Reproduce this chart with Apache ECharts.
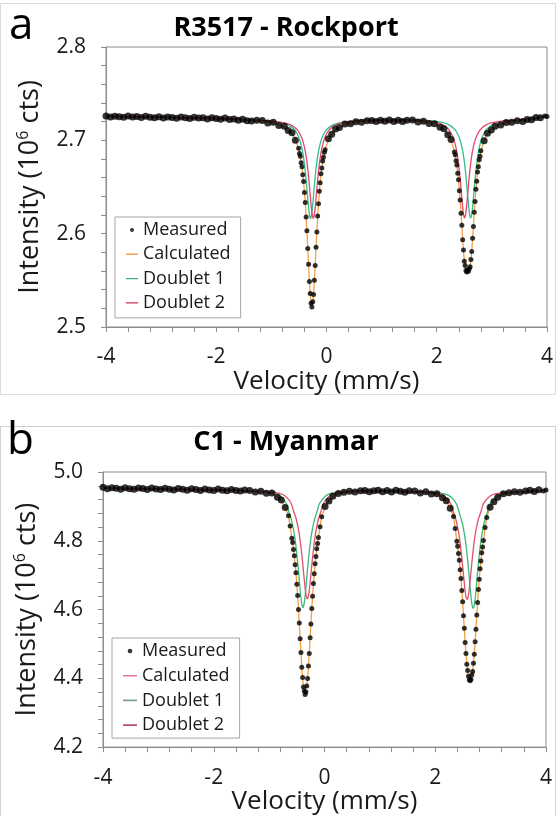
<!DOCTYPE html>
<html><head><meta charset="utf-8">
<script src="https://cdn.jsdelivr.net/npm/echarts@6/dist/echarts.min.js"></script>
<style>html,body{margin:0;padding:0;background:#fff}#c{width:556px;height:816px}</style>
</head><body><div id="c"></div>
<script>
const FONT = '"Open Sans", "Noto Sans", sans-serif';

// ---------- Panel a : R3517 - Rockport ----------
const velA = [
-4.00,-3.92,-3.84,-3.76,-3.68,-3.60,-3.52,-3.44,-3.36,-3.28,-3.20,-3.12,-3.04,-2.96,-2.88,-2.80,-2.72,-2.64,-2.56,-2.48,-2.40,-2.32,-2.24,-2.16,-2.08,-2.00,-1.92,-1.84,-1.76,-1.68,-1.60,-1.52,-1.44,-1.36,
-1.265,-1.165,-1.065,-0.965,-0.865,-0.765,-0.695,-0.625,-0.565,
-0.505,-0.49,-0.475,-0.46,-0.445,-0.43,-0.415,-0.40,-0.385,-0.37,-0.355,-0.34,-0.325,-0.31,-0.295,-0.28,
-0.265,
-0.25,-0.235,-0.22,-0.205,-0.19,-0.175,-0.16,-0.145,-0.13,-0.115,-0.10,-0.085,-0.07,-0.055,-0.04,-0.025,
0.035,0.095,0.165,0.235,0.335,0.435,0.535,0.635,0.735,
0.82,0.90,0.98,1.06,1.14,1.22,1.30,1.38,1.46,
1.56,1.66,1.76,1.86,1.96,2.06,2.13,2.20,2.26,
2.32,2.335,2.35,2.365,2.38,2.395,2.41,2.425,2.44,2.455,2.47,2.485,2.50,2.515,2.53,2.545,
2.56,
2.575,2.59,2.605,2.62,2.635,2.65,2.665,2.68,2.695,2.71,2.725,2.74,2.755,2.77,2.785,2.80,
2.86,2.92,2.99,3.06,3.16,3.26,3.36,3.46,3.56,
3.64,3.72,3.80,3.88,3.96,4.00];
const measuredA = [
2.7262,2.7250,2.7259,2.7254,2.7247,2.7260,2.7249,2.7255,2.7244,2.7258,2.7247,2.7243,2.7254,2.7239,2.7251,2.7245,2.7236,2.7250,2.7241,2.7233,2.7246,2.7238,2.7242,2.7229,2.7241,2.7233,2.7226,2.7238,2.7224,2.7229,2.7216,2.7225,2.7211,2.7207,
2.7215,2.7212,2.7185,2.7195,2.7160,2.7150,2.7105,2.7080,2.7002,
2.6915,2.6858,2.6830,2.6760,2.6718,2.6630,2.6560,2.6440,2.6335,2.6178,2.6030,2.5840,2.5672,2.5488,2.5360,2.5255,
2.5215,
2.5270,2.5348,2.5500,2.5658,2.5855,2.6018,2.6190,2.6320,2.6455,2.6545,2.6642,2.6704,2.6778,2.6818,2.6872,2.6898,
2.7018,2.7065,2.7122,2.7138,2.7175,2.7178,2.7198,2.7195,2.7210,
2.7212,2.7201,2.7215,2.7204,2.7217,2.7203,2.7216,2.7202,2.7214,
2.7218,2.7196,2.7205,2.7180,2.7178,2.7140,2.7125,2.7060,2.7010,
2.6875,2.6845,2.6780,2.6735,2.6648,2.6578,2.6460,2.6360,2.6218,2.6090,2.5935,2.5825,2.5705,2.5660,2.5605,2.5590,
2.5612,
2.5598,2.5625,2.5645,2.5722,2.5810,2.5950,2.6078,2.6230,2.6345,2.6475,2.6562,2.6660,2.6718,2.6792,2.6830,2.6888,
2.6995,2.7075,2.7110,2.7150,2.7165,2.7192,2.7195,2.7210,2.7202,
2.7224,2.7221,2.7244,2.7242,2.7262,2.7255];
const calculatedA = [
2.7258,2.7257,2.7256,2.7255,2.7254,2.7253,2.7252,2.7251,2.7250,2.7249,2.7248,2.7247,2.7246,2.7245,2.7244,2.7243,2.7242,2.7241,2.7240,2.7239,2.7238,2.7237,2.7236,2.7235,2.7234,2.7232,2.7230,2.7228,2.7226,2.7224,2.7221,2.7218,2.7215,2.7211,
2.7204,2.7200,2.7192,2.7183,2.7168,2.7143,2.7115,2.7071,2.7010,
2.6904,2.6867,2.6823,2.6771,2.6710,2.6637,2.6551,2.6448,2.6326,2.6184,2.6023,2.5847,2.5665,2.5494,2.5354,2.5262,
2.5230,
2.5262,2.5354,2.5494,2.5665,2.5847,2.6023,2.6184,2.6326,2.6448,2.6551,2.6637,2.6710,2.6771,2.6823,2.6867,2.6904,
2.7010,2.7071,2.7115,2.7143,2.7168,2.7183,2.7192,2.7200,2.7204,
2.7206,2.7208,2.7209,2.7210,2.7210,2.7210,2.7210,2.7209,2.7209,
2.7209,2.7203,2.7197,2.7187,2.7172,2.7146,2.7117,2.7069,2.7001,
2.6881,2.6838,2.6786,2.6725,2.6654,2.6570,2.6469,2.6353,2.6224,2.6084,2.5944,2.5816,2.5715,2.5651,2.5617,2.5605,
2.5603,
2.5605,2.5617,2.5651,2.5715,2.5816,2.5944,2.6084,2.6224,2.6353,2.6469,2.6570,2.6654,2.6725,2.6786,2.6838,2.6881,
2.7001,2.7069,2.7117,2.7146,2.7172,2.7187,2.7197,2.7203,2.7209,
2.7218,2.7228,2.7238,2.7248,2.7256,2.7258];
const doublet1A = [
[-4,2.7258],[-3,2.7248],[-2,2.7234],[-1.6,2.7224],
[-1.29,2.7215],[-0.99,2.7204],[-0.79,2.7184],[-0.69,2.7163],[-0.59,2.7119],[-0.54,2.7079],[-0.49,2.7013],[-0.45,2.6927],[-0.42,2.6831],[-0.39,2.6695],[-0.37,2.6579],[-0.35,2.6446],[-0.33,2.6311],[-0.31,2.6205],
[-0.29,2.6165],
[-0.27,2.6205],[-0.25,2.6311],[-0.23,2.6446],[-0.21,2.6579],[-0.19,2.6695],[-0.16,2.6831],[-0.13,2.6927],[-0.09,2.7013],[-0.04,2.7079],[0.01,2.7119],[0.11,2.7163],[0.21,2.7184],[0.41,2.7204],[0.71,2.7215],
[1.15,2.7216],
[1.615,2.7220],[1.915,2.7209],[2.115,2.7189],[2.215,2.7168],[2.315,2.7124],[2.365,2.7084],[2.415,2.7018],[2.455,2.6932],[2.485,2.6836],[2.515,2.6700],[2.535,2.6584],[2.555,2.6451],[2.575,2.6316],[2.595,2.6210],
[2.615,2.6170],
[2.635,2.6210],[2.655,2.6316],[2.675,2.6451],[2.695,2.6584],[2.715,2.6700],[2.745,2.6836],[2.775,2.6932],[2.815,2.7018],[2.865,2.7084],[2.915,2.7124],[3.015,2.7168],[3.115,2.7189],[3.315,2.7209],[3.615,2.7220],
[4,2.7256]];
const doublet2A = [
[-4,2.7258],[-3,2.7248],[-2,2.7234],[-1.6,2.7224],
[-1.24,2.7215],[-0.94,2.7204],[-0.74,2.7184],[-0.64,2.7163],[-0.54,2.7119],[-0.49,2.7079],[-0.44,2.7013],[-0.40,2.6927],[-0.37,2.6831],[-0.34,2.6695],[-0.32,2.6579],[-0.30,2.6446],[-0.28,2.6311],[-0.26,2.6205],
[-0.24,2.6165],
[-0.22,2.6205],[-0.20,2.6311],[-0.18,2.6446],[-0.16,2.6579],[-0.14,2.6695],[-0.11,2.6831],[-0.08,2.6927],[-0.04,2.7013],[0.01,2.7079],[0.06,2.7119],[0.16,2.7163],[0.26,2.7184],[0.46,2.7204],[0.76,2.7215],
[1.15,2.7216],
[1.505,2.7220],[1.805,2.7209],[2.005,2.7189],[2.105,2.7168],[2.205,2.7124],[2.255,2.7084],[2.305,2.7018],[2.345,2.6932],[2.375,2.6836],[2.405,2.6700],[2.425,2.6584],[2.445,2.6451],[2.465,2.6316],[2.485,2.6210],
[2.505,2.6170],
[2.525,2.6210],[2.545,2.6316],[2.565,2.6451],[2.585,2.6584],[2.605,2.6700],[2.635,2.6836],[2.665,2.6932],[2.705,2.7018],[2.755,2.7084],[2.805,2.7124],[2.905,2.7168],[3.005,2.7189],[3.205,2.7209],[3.505,2.7220],
[4,2.7256]];

// ---------- Panel b : C1 - Myanmar ----------
const velB = [
-4.00,-3.92,-3.84,-3.76,-3.68,-3.60,-3.52,-3.44,-3.36,-3.28,-3.20,-3.12,-3.04,-2.96,-2.88,-2.80,-2.72,-2.64,-2.56,-2.48,-2.40,-2.32,-2.24,-2.16,-2.08,-2.00,-1.92,-1.84,-1.76,-1.68,-1.60,-1.52,-1.44,
-1.35,-1.25,-1.15,-1.05,-0.95,-0.85,-0.78,-0.71,-0.65,-0.62,
-0.59,-0.575,-0.56,-0.545,-0.53,-0.515,-0.50,-0.485,-0.47,-0.455,-0.44,-0.425,-0.41,-0.395,-0.38,-0.365,
-0.35,
-0.335,-0.32,-0.305,-0.29,-0.275,-0.26,-0.245,-0.23,-0.215,-0.20,-0.185,-0.17,-0.155,-0.14,-0.125,-0.11,
-0.08,-0.05,0.01,0.08,0.15,0.25,0.35,0.45,0.55,0.65,
0.73,0.81,0.89,0.97,1.05,1.13,1.21,1.29,1.37,1.45,1.53,
1.63,1.73,1.83,1.93,2.03,2.13,2.20,2.27,2.33,2.36,
2.39,2.405,2.42,2.435,2.45,2.465,2.48,2.495,2.51,2.525,2.54,2.555,2.57,2.585,2.60,2.615,
2.63,
2.645,2.66,2.675,2.69,2.705,2.72,2.735,2.75,2.765,2.78,2.795,2.81,2.825,2.84,2.855,2.87,
2.90,2.93,2.99,3.06,3.13,3.23,3.33,3.43,3.53,3.63,
3.71,3.79,3.87,3.95,4.00];
const measuredB = [
4.9555,4.9510,4.9542,4.9528,4.9500,4.9545,4.9515,4.9498,4.9536,4.9520,4.9490,4.9532,4.9505,4.9488,4.9528,4.9495,4.9480,4.9522,4.9500,4.9470,4.9515,4.9490,4.9465,4.9508,4.9478,4.9460,4.9502,4.9470,4.9452,4.9494,4.9462,4.9445,4.9480,
4.9462,4.9415,4.9440,4.9385,4.9388,4.9265,4.9185,4.8965,4.8725,4.8432,
4.8075,4.7948,4.7745,4.7565,4.7305,4.7070,4.6735,4.6410,4.6000,4.5610,4.5150,4.4750,4.4325,4.4025,4.3745,4.3630,
4.3530,
4.3605,4.3780,4.3995,4.4355,4.4720,4.5178,4.5580,4.6030,4.6385,4.6760,4.7040,4.7335,4.7542,4.7770,4.7920,4.8095,
4.8405,4.8698,4.8995,4.9158,4.9292,4.9378,4.9412,4.9438,4.9418,4.9452,
4.9462,4.9425,4.9455,4.9470,4.9428,4.9460,4.9418,4.9466,4.9440,4.9412,4.9452,
4.9445,4.9392,4.9425,4.9362,4.9368,4.9248,4.9165,4.8945,4.8705,4.8360,
4.7985,4.7842,4.7630,4.7435,4.7160,4.6905,4.6555,4.6230,4.5820,4.5455,4.5040,4.4725,4.4410,4.4230,4.4060,4.3960,
4.3930,
4.3975,4.4095,4.4200,4.4440,4.4700,4.5065,4.5428,4.5845,4.6205,4.6580,4.6880,4.7185,4.7415,4.7650,4.7820,4.8005,
4.8385,4.8675,4.8975,4.9138,4.9268,4.9365,4.9395,4.9425,4.9410,4.9448,
4.9470,4.9432,4.9485,4.9450,4.9478];
const calculatedB = [
4.9530,4.9528,4.9526,4.9524,4.9522,4.9520,4.9518,4.9516,4.9514,4.9512,4.9510,4.9508,4.9506,4.9504,4.9502,4.9500,4.9498,4.9496,4.9494,4.9492,4.9490,4.9488,4.9486,4.9484,4.9482,4.9480,4.9478,4.9476,4.9474,4.9471,4.9468,4.9464,4.9460,
4.9440,4.9430,4.9420,4.9400,4.9370,4.9280,4.9170,4.8980,4.8710,4.8420,
4.8084,4.7934,4.7757,4.7554,4.7321,4.7053,4.6748,4.6398,4.6015,4.5595,4.5163,4.4734,4.4341,4.4010,4.3765,4.3617,
4.3565,
4.3617,4.3765,4.4010,4.4341,4.4734,4.5163,4.5595,4.6015,4.6398,4.6748,4.7053,4.7321,4.7554,4.7757,4.7934,4.8084,
4.8420,4.8710,4.8980,4.9170,4.9280,4.9370,4.9400,4.9420,4.9430,4.9440,
4.9438,4.9440,4.9442,4.9444,4.9445,4.9446,4.9446,4.9445,4.9444,4.9442,4.9440,
4.9420,4.9410,4.9400,4.9380,4.9350,4.9260,4.9150,4.8960,4.8690,4.8370,
4.7995,4.7830,4.7641,4.7424,4.7173,4.6892,4.6569,4.6216,4.5833,4.5440,4.5054,4.4711,4.4427,4.4216,4.4081,4.4008,
4.3985,
4.4008,4.4081,4.4216,4.4427,4.4711,4.5054,4.5440,4.5833,4.6216,4.6569,4.6892,4.7173,4.7424,4.7641,4.7830,4.7995,
4.8370,4.8690,4.8960,4.9150,4.9260,4.9350,4.9380,4.9400,4.9410,4.9420,
4.9445,4.9452,4.9460,4.9468,4.9470];
const doublet1B = [
[-4,4.9530],[-3,4.9510],[-2,4.9482],[-1.6,4.9468],
[-1.39,4.9446],[-1.09,4.9426],[-0.89,4.9375],[-0.79,4.9290],[-0.69,4.9086],[-0.64,4.8824],[-0.59,4.8559],[-0.55,4.8236],[-0.52,4.7896],[-0.49,4.7454],[-0.47,4.7110],[-0.45,4.6740],[-0.43,4.6400],[-0.41,4.6150],
[-0.39,4.6060],
[-0.37,4.6150],[-0.35,4.6400],[-0.33,4.6740],[-0.31,4.7110],[-0.29,4.7454],[-0.26,4.7896],[-0.23,4.8236],[-0.19,4.8559],[-0.14,4.8824],[-0.09,4.9086],[0.01,4.9290],[0.11,4.9375],[0.31,4.9426],[0.61,4.9446],
[1.15,4.9446],
[1.685,4.9426],[1.985,4.9406],[2.185,4.9355],[2.285,4.9270],[2.385,4.9066],[2.435,4.8804],[2.485,4.8539],[2.525,4.8216],[2.555,4.7876],[2.585,4.7434],[2.605,4.7090],[2.625,4.6720],[2.645,4.6380],[2.665,4.6130],
[2.685,4.6040],
[2.705,4.6130],[2.725,4.6380],[2.745,4.6720],[2.765,4.7090],[2.785,4.7434],[2.815,4.7876],[2.845,4.8216],[2.885,4.8539],[2.935,4.8804],[2.985,4.9066],[3.085,4.9270],[3.185,4.9355],[3.385,4.9406],[3.685,4.9426],
[4,4.9470]];
const doublet2B = [
[-4,4.9530],[-3,4.9510],[-2,4.9482],[-1.6,4.9468],
[-1.31,4.9447],[-1.01,4.9428],[-0.81,4.9381],[-0.71,4.9302],[-0.61,4.9113],[-0.56,4.8871],[-0.51,4.8625],[-0.47,4.8326],[-0.44,4.8011],[-0.41,4.7601],[-0.39,4.7280],[-0.37,4.6940],[-0.35,4.6625],[-0.33,4.6395],
[-0.31,4.6310],
[-0.29,4.6395],[-0.27,4.6625],[-0.25,4.6940],[-0.23,4.7280],[-0.21,4.7601],[-0.18,4.8011],[-0.15,4.8326],[-0.11,4.8625],[-0.06,4.8871],[-0.01,4.9113],[0.09,4.9302],[0.19,4.9381],[0.39,4.9428],[0.69,4.9447],
[1.15,4.9446],
[1.575,4.9427],[1.875,4.9408],[2.075,4.9361],[2.175,4.9282],[2.275,4.9093],[2.325,4.8851],[2.375,4.8605],[2.415,4.8306],[2.445,4.7991],[2.475,4.7581],[2.495,4.7260],[2.515,4.6920],[2.535,4.6605],[2.555,4.6375],
[2.575,4.6290],
[2.595,4.6375],[2.615,4.6605],[2.635,4.6920],[2.655,4.7260],[2.675,4.7581],[2.705,4.7991],[2.735,4.8306],[2.775,4.8605],[2.825,4.8851],[2.875,4.9093],[2.975,4.9282],[3.075,4.9361],[3.275,4.9408],[3.575,4.9427],
[4,4.9470]];

const legendNames = ['Measured', 'Calculated', 'Doublet 1', 'Doublet 2'];
const titlesText = ['R3517 - Rockport', 'C1 - Myanmar'];
const panelLetters = ['a', 'b'];

// ---------- helpers ----------
function svgIcon(inner) {
  return 'image://data:image/svg+xml;charset=utf-8,' + encodeURIComponent(
    "<svg xmlns='http://www.w3.org/2000/svg' width='14' height='10' viewBox='0 0 14 10'>" + inner + "</svg>");
}
const dotIcon = svgIcon("<circle cx='7' cy='5' r='2.3' fill='#000'/>");
const lineIcon = c => svgIcon("<line x1='0' y1='5' x2='14' y2='5' stroke='" + c + "' stroke-width='1.6'/>");
const zip = (xs, ys) => xs.map((x, i) => [x, ys[i]]);
// bigger markers where the measured points are widely spaced, so the flat part reads as a solid band
const sizeBySpacing = vel => (val, p) => {
  const i = p.dataIndex;
  const a = i > 0 ? vel[i] - vel[i - 1] : 1, b = i < vel.length - 1 ? vel[i + 1] - vel[i] : 1;
  return Math.min(a, b) > 0.05 ? 7 : 5;
};

const AX = '#8c8c8c', TXT = '#1a1a1a';
function xAxisCfg(gi) {
  return {
    gridIndex: gi, type: 'value', min: -4, max: 4, interval: 2,
    axisLine: { onZero: false, lineStyle: { color: AX, width: 1 } },
    axisTick: { show: true, length: 5, lineStyle: { color: AX } },
    minorTick: { show: true, splitNumber: 5, length: 5, lineStyle: { color: AX } },
    splitLine: { show: false },
    axisLabel: { margin: 20, fontSize: 21, color: TXT, fontFamily: FONT },
    name: 'Velocity (mm/s)', nameLocation: 'middle', nameGap: 38,
    nameTextStyle: { fontSize: 26, color: TXT, fontFamily: FONT }
  };
}
function yAxisCfg(gi, mn, mx, iv, gap) {
  return {
    gridIndex: gi, type: 'value', min: mn, max: mx, interval: iv,
    axisLine: { onZero: false, lineStyle: { color: AX, width: 1 } },
    axisTick: { show: true, length: 5, lineStyle: { color: AX } },
    minorTick: { show: true, splitNumber: 5, length: 5, lineStyle: { color: AX } },
    splitLine: { show: false },
    axisLabel: { margin: 20, fontSize: 21, color: TXT, fontFamily: FONT, formatter: v => v.toFixed(1) },
    name: 'Intensity (10{s|6} cts)', nameLocation: 'middle', nameRotate: 90, nameGap: gap,
    nameTextStyle: { fontSize: 27, color: TXT, fontFamily: FONT, lineHeight: 30,
      rich: { s: { fontSize: 16, fontFamily: FONT, color: TXT, verticalAlign: 'top', lineHeight: 17 } } }
  };
}
function legendCfg(left, top, gap, pad, iw, colors) {
  return {
    orient: 'vertical', left: left, top: top, itemWidth: iw, itemHeight: 10, itemGap: gap,
    padding: pad, backgroundColor: '#fff', borderColor: '#a6a6a6', borderWidth: 1,
    selectedMode: false,
    textStyle: { fontSize: 18, lineHeight: 20, color: TXT, fontFamily: FONT },
    data: [
      { name: legendNames[0], icon: dotIcon },
      { name: legendNames[1], icon: lineIcon(colors[0]) },
      { name: legendNames[2], icon: lineIcon(colors[1]) },
      { name: legendNames[3], icon: lineIcon(colors[2]) }
    ]
  };
}
function seriesFor(gi, vel, meas, calc, d1, d2, cols) {
  const base = { xAxisIndex: gi, yAxisIndex: gi };
  return [
    Object.assign({ type: 'line', name: legendNames[1], data: zip(vel, calc), symbol: 'none', showSymbol: false,
      lineStyle: { color: cols[0], width: 1.3 }, itemStyle: { color: cols[0] }, z: 2 }, base),
    Object.assign({ type: 'line', name: legendNames[2], data: d1, symbol: 'none', showSymbol: false, smooth: 0.3,
      lineStyle: { color: cols[1], width: 1.3 }, itemStyle: { color: cols[1] }, z: 3 }, base),
    Object.assign({ type: 'line', name: legendNames[3], data: d2, symbol: 'none', showSymbol: false, smooth: 0.3,
      lineStyle: { color: cols[2], width: 1.3 }, itemStyle: { color: cols[2] }, z: 3 }, base),
    Object.assign({ type: 'scatter', name: legendNames[0], data: zip(vel, meas), symbol: 'circle',
      symbolSize: sizeBySpacing(vel), itemStyle: { color: '#000' }, z: 5 }, base)
  ];
}
function txt(text, x, y, size, weight, align) {
  return { type: 'text', x: x, y: y, silent: true,
    style: { text: text, fontSize: size, fontWeight: weight, fontFamily: FONT, fill: '#000',
      textAlign: align, align: align, textVerticalAlign: 'top', verticalAlign: 'top' } };
}

const plotColsA = ['#f2a24e', '#2fbf8f', '#e3476a'];
const plotColsB = ['#f0a040', '#3db87a', '#e0506f'];

const option = {
  animation: false,
  backgroundColor: '#fff',
  graphic: [
    { type: 'rect', silent: true, shape: { x: 0.5, y: 3.5, width: 555, height: 391 }, style: { fill: 'none', stroke: '#dcdcdc', lineWidth: 1 } },
    { type: 'rect', silent: true, shape: { x: 0.5, y: 426.5, width: 555, height: 400 }, style: { fill: 'none', stroke: '#d0d0d0', lineWidth: 1 } },
    txt(panelLetters[0], 9, 4, 44, 'normal', 'left'),
    txt(panelLetters[1], 7, 419, 44, 'normal', 'left'),
    txt(titlesText[0], 286, 15, 27, 'bold', 'center'),
    txt(titlesText[1], 286, 429, 27, 'bold', 'center')
  ],
  grid: [
    { left: 106, top: 47, width: 444, height: 280, show: true, borderColor: AX, borderWidth: 1, backgroundColor: 'transparent' },
    { left: 103, top: 472, width: 443, height: 277, show: true, borderColor: AX, borderWidth: 1, backgroundColor: 'transparent' }
  ],
  xAxis: [xAxisCfg(0), xAxisCfg(1)],
  yAxis: [yAxisCfg(0, 2.5, 2.8, 0.1, 50), yAxisCfg(1, 4.2, 5.0, 0.2, 48)],
  legend: [
    legendCfg(115, 217, 4.3, [3, 10, 5, 11], 12, ['#f0a05a', '#40a890', '#d03050']),
    legendCfg(112, 638, 4.7, [3, 10, 3, 11], 14, ['#e87890', '#7fa08f', '#b04060'])
  ],
  series: [].concat(
    seriesFor(0, velA, measuredA, calculatedA, doublet1A, doublet2A, plotColsA),
    seriesFor(1, velB, measuredB, calculatedB, doublet1B, doublet2B, plotColsB)
  )
};
const chart = echarts.init(document.getElementById('c'), null, { renderer: 'canvas' });
chart.setOption(option);
</script>
</body></html>
